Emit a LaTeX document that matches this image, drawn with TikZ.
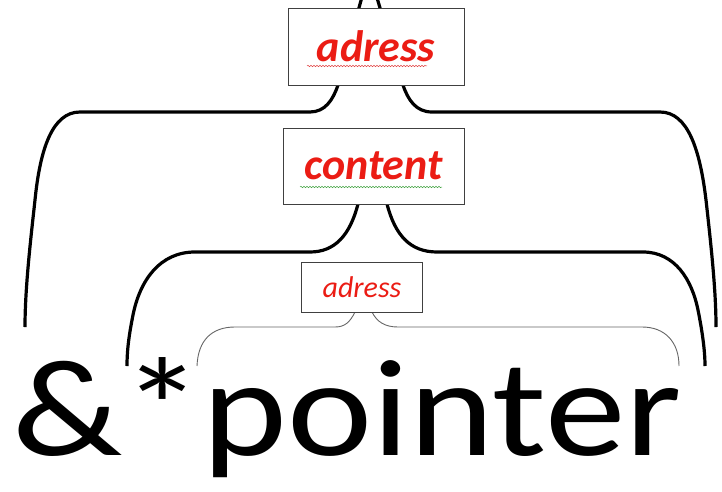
\documentclass[tikz,border=0pt]{standalone}
\usepackage{fontspec}
\setmainfont{Carlito}
\usetikzlibrary{positioning,backgrounds,decorations.pathmorphing}
\definecolor{AdressRed}{RGB}{235,28,20}
\definecolor{SpellRed}{RGB}{225,70,70}
\definecolor{SpellGreen}{RGB}{70,165,70}

\begin{document}
\begin{tikzpicture}[
				x=1pt, y=-1pt,
				% boxes round the red labels
				LabelBox/.style={draw=black!75, fill=white, line width=0.8pt, inner sep=0pt, text=AdressRed},
				BigBrace/.style={line width=3.2pt, line join=round},
				SmallBrace/.style={draw=black!60, line width=0.9pt, line join=round},
				% spell check lines
				Squiggle/.style={decorate, decoration={snake, amplitude=0.7pt, segment length=3pt}, line width=0.5pt}
				]
				\useasboundingbox (0,0) rectangle (722,492);
				\clip (0,0) rectangle (722,492);
				\node[LabelBox, minimum width=176pt, minimum height=77pt, font=\fontsize{44}{46}\selectfont\bfseries\itshape] (AdressTop) at (376,46.5) {adress};
				\node[LabelBox, minimum width=181pt, minimum height=76pt, font=\fontsize{44}{46}\selectfont\bfseries\itshape] (Content) at (373.5,166) {content};
				\node[LabelBox, minimum width=121pt, minimum height=50pt, font=\fontsize{30}{32}\selectfont\itshape] (AdressLow) at (362,287) {adress};
				\node[anchor=base west, inner sep=0pt, xscale=1.17, font=\fontsize{138}{140}\selectfont] (Pointer) at (12,455) {\&*pointer};
				\coordinate (AmpEnd) at (25,327);
				\coordinate (TopEnd) at (716,327);
				\coordinate (StarEnd) at (127,366);
				\coordinate (MidEnd) at (705,366);
				\coordinate (PEnd) at (197,366);
				\coordinate (REnd) at (679,366);
				\coordinate (TopTip) at (369,-29);
				\coordinate (MidTip) at (372,150);
				\coordinate (LowTip) at (363,290);
				\begin{pgfonlayer}{background}
					\draw[BigBrace] (AmpEnd) .. controls (25,290) and (30,245) .. (35,200) .. controls (40,150) and (52,112) .. (80,112) -- (310,112) .. controls (325,112) and (333,100) .. (338,85) -- (TopTip) -- (403,85) .. controls (408,100) and (416,112) .. (432,112) -- (660,112) .. controls (688,112) and (700,150) .. (706,200) .. controls (711,245) and (716,290) .. (TopEnd);
					\draw[BigBrace] (StarEnd) .. controls (127,350) and (129,335) .. (133,315) .. controls (140,280) and (160,252) .. (195,252) -- (310,252) .. controls (335,252) and (350,235) .. (358,204) -- (MidTip) -- (387,204) .. controls (395,235) and (410,252) .. (437,252) -- (643,252) .. controls (675,252) and (692,280) .. (698,310) .. controls (702,330) and (705,350) .. (MidEnd);
					\draw[SmallBrace] (PEnd) .. controls (198,340) and (212,327) .. (235,327) -- (335,327) .. controls (345,327) and (350,322) .. (355,312) -- (LowTip) -- (372,312) .. controls (377,322) and (385,327) .. (398,327) -- (642,327) .. controls (665,327) and (679,342) .. (REnd);
				\end{pgfonlayer}
				\draw[Squiggle, SpellRed] (307,66) -- (427,66);
				\draw[Squiggle, SpellGreen] (300,187) -- (442,187);
			\end{tikzpicture}
\end{document}
